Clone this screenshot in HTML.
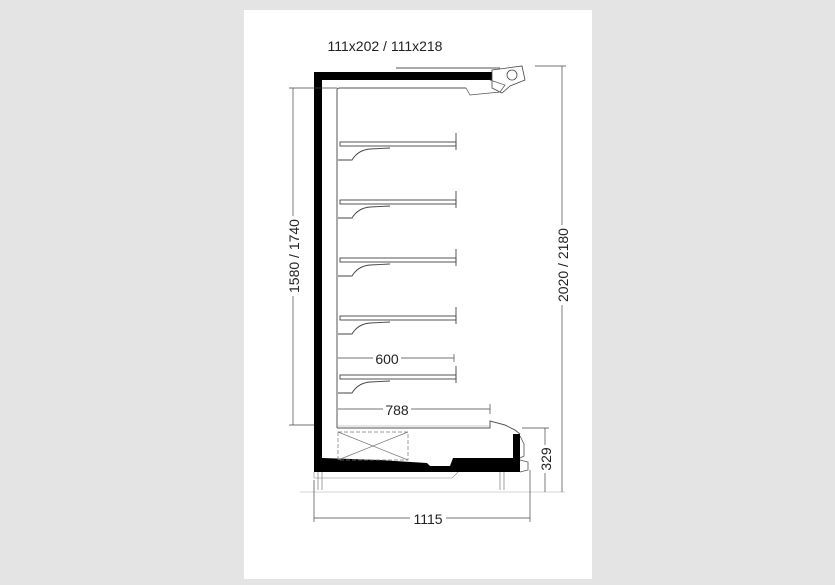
<!DOCTYPE html>
<html><head><style>
html,body{margin:0;padding:0;background:#e4e4e4;width:835px;height:585px;overflow:hidden}
svg{position:absolute;left:0;top:0}
text{font-family:"Liberation Sans",sans-serif;fill:#222}
</style></head><body>
<svg width="835" height="585" viewBox="0 0 835 585">
<rect x="244" y="10" width="348" height="569" fill="#fff"/>
<text x="385" y="51" font-size="14" text-anchor="middle">111x202 / 111x218</text>
<line x1="396" y1="68" x2="500" y2="68" stroke="#555" stroke-width="1"/>
<polygon points="314,72 492,72 492,80 322,80 322,458 380,460 427,463 430,466 450,466 453,458 513,458 513,434 520,434 520,472 314,472" fill="#000"/>
<path d="M492,70 L522,66 L525,80 L510,86 L502,93 L492,88 Z" fill="none" stroke="#444" stroke-width="0.8"/>
<circle cx="512" cy="75" r="5" fill="none" stroke="#444" stroke-width="0.8"/>
<path d="M466,88 L470,95 L500,92 L505,85 L490,80" fill="none" stroke="#555" stroke-width="0.7"/>
<path d="M337,428 L337,90 Q337,88 340,88 L466,88" fill="none" stroke="#555" stroke-width="1"/>
<g stroke="#444" stroke-width="0.9" fill="none">
<g id="sh"><rect x="340" y="142" width="116" height="4"/><line x1="456" y1="133" x2="456" y2="150"/><path d="M338,160 L352,160 Q358,150 370,149 L390,148"/></g>
<use href="#sh" y="58"/><use href="#sh" y="116"/><use href="#sh" y="174"/><use href="#sh" y="233"/>
</g>
<path d="M337,428 L490,428 L490,421 L505,425 L515,430 L520,434" fill="none" stroke="#555" stroke-width="1"/>
<path d="M337,426 L490,426" stroke="#999" stroke-width="0.6"/>
<g stroke="#777" stroke-width="0.7" fill="none">
<rect x="338" y="432" width="70" height="28" stroke-dasharray="4,2"/>
<line x1="338" y1="432" x2="408" y2="460"/><line x1="408" y1="432" x2="338" y2="460"/>
</g>
<path d="M520,436 L524,444 L524,456 L520,458 M520,460 L528,462 L528,470 L520,472" fill="none" stroke="#555" stroke-width="0.8"/>
<path d="M314,472 L314,478 L452,478 L458,472" fill="none" stroke="#888" stroke-width="0.6"/>
<line x1="300" y1="492" x2="565" y2="492" stroke="#aaa" stroke-width="0.6"/>
<g stroke="#777" stroke-width="0.7" fill="none">
<line x1="318" y1="472" x2="318" y2="490"/><line x1="322" y1="472" x2="322" y2="490"/>
<line x1="500" y1="472" x2="500" y2="490"/><line x1="504" y1="472" x2="504" y2="490"/>
</g>
<g stroke="#444" stroke-width="0.7" fill="none">
<line x1="293" y1="88" x2="293" y2="425"/><line x1="289" y1="88" x2="337" y2="88"/><line x1="289" y1="425" x2="314" y2="425"/>
<line x1="562" y1="66" x2="562" y2="492"/><line x1="535" y1="66" x2="566" y2="66"/>
<line x1="545" y1="428" x2="545" y2="492"/><line x1="522" y1="428" x2="549" y2="428"/>
<line x1="314" y1="480" x2="314" y2="522"/><line x1="530" y1="470" x2="530" y2="522"/>
<line x1="314" y1="518" x2="530" y2="518"/>
<line x1="338" y1="358" x2="454" y2="358"/><line x1="454" y1="354" x2="454" y2="362"/>
<line x1="338" y1="409" x2="490" y2="409"/><line x1="490" y1="404" x2="490" y2="414"/>
</g>
<rect x="373" y="350" width="28" height="15" fill="#fff"/>
<text x="387" y="364" font-size="14" text-anchor="middle">600</text>
<rect x="383" y="401" width="28" height="15" fill="#fff"/>
<text x="397" y="415" font-size="14" text-anchor="middle">788</text>
<rect x="410" y="510" width="36" height="15" fill="#fff"/>
<text x="428" y="524" font-size="14" text-anchor="middle">1115</text>
<rect x="285" y="216" width="16" height="80" fill="#fff"/>
<text transform="translate(299,256) rotate(-90)" font-size="14" text-anchor="middle">1580 / 1740</text>
<rect x="554" y="225" width="16" height="80" fill="#fff"/>
<text transform="translate(568,265) rotate(-90)" font-size="14" text-anchor="middle">2020 / 2180</text>
<rect x="537" y="445" width="16" height="28" fill="#fff"/>
<text transform="translate(551,459) rotate(-90)" font-size="14" text-anchor="middle">329</text>
</svg>
</body></html>
